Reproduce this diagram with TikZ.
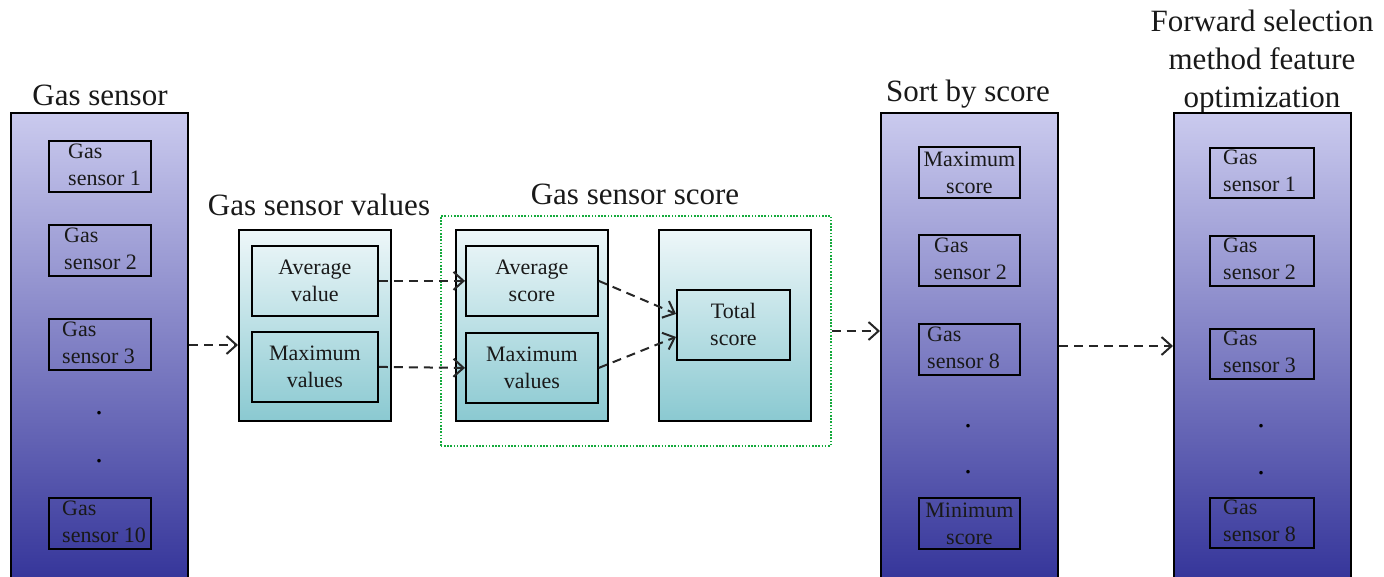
\documentclass[tikz,border=0pt]{standalone}
\usepackage{fontspec}
\setmainfont{Liberation Serif}
\usetikzlibrary{arrows.meta}
\definecolor{bluetop}{RGB}{202,202,238}
\definecolor{bluebot}{RGB}{46,46,150}
\definecolor{cyantop}{RGB}{238,247,249}
\definecolor{cyanbot}{RGB}{138,201,209}
\definecolor{dotgreen}{RGB}{20,170,60}
\definecolor{ink}{RGB}{25,25,25}
\begin{document}
\begin{tikzpicture}[x=1pt,y=-1pt,
  col/.style={draw=black, line width=2pt, top color=bluetop, bottom color=bluebot,
    minimum width=177pt, minimum height=490pt, inner sep=0pt, anchor=north west},
  sbox/.style={draw=black, line width=1.8pt, minimum height=51pt, inner sep=0pt, anchor=north west},
  cbig/.style={draw=black, line width=2pt, top color=cyantop, bottom color=cyanbot,
    minimum width=152pt, minimum height=191pt, inner sep=0pt, anchor=north west},
  cin/.style={draw=black, line width=1.8pt, minimum height=70pt, inner sep=0pt, anchor=north west,
    align=center, text=ink, font=\fontsize{22}{27}\selectfont},
  ttl/.style={font=\fontsize{31}{38}\selectfont, align=center, text=ink, inner sep=0pt},
  txt/.style={font=\fontsize{22}{27}\selectfont, align=left, anchor=west, text=ink, inner sep=0pt},
  ctxt/.style={font=\fontsize{22}{27}\selectfont, align=center, text=ink, inner sep=0pt},
  dotc/.style={font=\fontsize{30}{30}\selectfont, text=black, inner sep=0pt},
  arr/.style={line width=2pt, draw=black!85, dash pattern=on 9pt off 6pt,
    -{Straight Barb[length=10pt,width=18pt]}}
]
\useasboundingbox (0,0) rectangle (1384,576);

% ---------- Gas sensor column ----------
\node[ttl, anchor=base] (tgs) at (100,105) {Gas sensor};
\node[col] (lcol) at (10,112) {};
\node[sbox, minimum width=102pt] (l1) at (48,140) {};
\node[sbox, minimum width=102pt] (l2) at (48,224) {};
\node[sbox, minimum width=102pt] (l3) at (48,318) {};
\node[sbox, minimum width=102pt] (l10) at (48,497) {};
\node[txt] (l1t) at (68,165) {Gas\\sensor 1};
\node[txt] (l2t) at (64,249) {Gas\\sensor 2};
\node[txt] (l3t) at (62,343) {Gas\\sensor 3};
\node[txt] (l10t) at (62,522) {Gas\\sensor 10};
\node[dotc] (ld1) at (99,413) {.};
\node[dotc] (ld2) at (99,461) {.};

% ---------- Gas sensor values ----------
\node[ttl, anchor=base] (tval) at (319,215) {Gas sensor values};
\node[cbig] (vals) at (238,229) {};
\node[cin, minimum width=126pt] (avgv) at (251,245) {Average\\value};
\node[cin, minimum width=126pt] (maxv) at (251,331) {Maximum\\values};

% ---------- Gas sensor score ----------
\node[draw=dotgreen, line width=1.6pt, dash pattern=on 1.6pt off 1.6pt,
  minimum width=390pt, minimum height=230pt, inner sep=0pt, anchor=north west] (grp) at (440,215) {};
\node[ttl, anchor=base] (tscore) at (635,204) {Gas sensor score};
\node[cbig] (sc) at (455,229) {};
\node[cin, minimum width=132pt] (avgs) at (465,245) {Average\\score};
\node[cin, minimum width=132pt] (maxs) at (465,332) {Maximum\\values};
\node[cbig] (tout) at (658,229) {};
\node[cin, minimum width=113pt] (tot) at (676,289) {Total\\score};

% ---------- Sort by score ----------
\node[ttl, anchor=base] (tsort) at (968,101) {Sort by score};
\node[col] (scol) at (880,112) {};
\node[sbox, minimum width=101pt] (s1) at (918,146) {};
\node[sbox, minimum width=101pt] (s2) at (918,234) {};
\node[sbox, minimum width=101pt] (s3) at (918,323) {};
\node[sbox, minimum width=101pt] (s4) at (918,497) {};
\node[ctxt] (s1t) at (s1.center) {Maximum\\score};
\node[txt] (s2t) at (934,259) {Gas\\sensor 2};
\node[txt] (s3t) at (927,348) {Gas\\sensor 8};
\node[ctxt] (s4t) at (s4.center) {Minimum\\score};
\node[dotc] (sd1) at (968,426) {.};
\node[dotc] (sd2) at (968,472) {.};

% ---------- Forward selection ----------
\node[ttl] (tfs) at (1262,62) {Forward selection\\method feature\\optimization};
\node[col] (fcol) at (1173,112) {};
\node[sbox, minimum width=104pt, minimum height=50pt] (f1) at (1209,147) {};
\node[sbox, minimum width=104pt, minimum height=50pt] (f2) at (1209,235) {};
\node[sbox, minimum width=104pt, minimum height=50pt] (f3) at (1209,328) {};
\node[sbox, minimum width=104pt, minimum height=50pt] (f4) at (1209,497) {};
\node[txt] (f1t) at (1223,171) {Gas\\sensor 1};
\node[txt] (f2t) at (1223,259) {Gas\\sensor 2};
\node[txt] (f3t) at (1223,352) {Gas\\sensor 3};
\node[txt] (f4t) at (1223,521) {Gas\\sensor 8};
\node[dotc] (fd1) at (1261,426) {.};
\node[dotc] (fd2) at (1261,473) {.};

% ---------- connectors ----------
\draw[arr] (lcol.east |- 0,345) -- (vals.west |- 0,345);
\draw[arr] (avgv.east) -- (avgs.west);
\draw[arr] (maxv.east) -- (maxs.west);
\draw[arr] (avgs.east) -- ([yshift=11pt]tot.west);
\draw[arr] (maxs.east) -- ([yshift=-12pt]tot.west);
\draw[arr] (grp.east |- 0,331) -- (scol.west |- 0,331);
\draw[arr] (scol.east |- 0,346) -- (fcol.west |- 0,346);
\end{tikzpicture}
\end{document}
